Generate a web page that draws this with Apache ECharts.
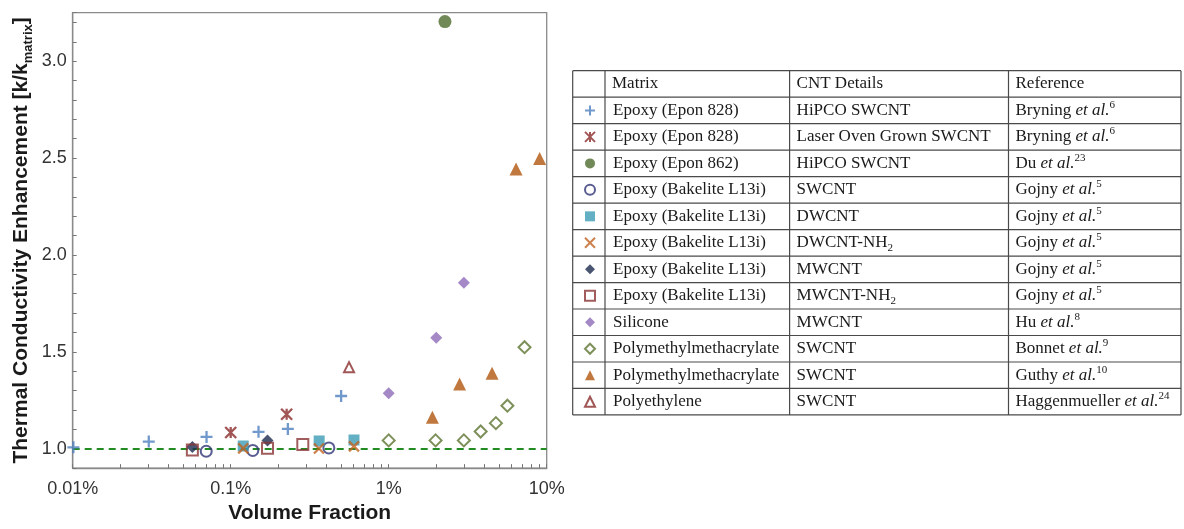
<!DOCTYPE html>
<html>
<head>
<meta charset="utf-8">
<script src="https://cdn.jsdelivr.net/npm/echarts@6/dist/echarts.min.js"></script>
<style>
html,body{margin:0;padding:0;background:#fff;}
#chart{width:1184px;height:529px;}
</style>
</head>
<body>
<div id="chart"></div>
<script>
// ---------- DATA (volume fraction in %, enhancement k/k_matrix) ----------
const matrices = [
  'Epoxy (Epon 828)', 'Epoxy (Epon 828)', 'Epoxy (Epon 862)',
  'Epoxy (Bakelite L13i)', 'Epoxy (Bakelite L13i)', 'Epoxy (Bakelite L13i)',
  'Epoxy (Bakelite L13i)', 'Epoxy (Bakelite L13i)', 'Silicone',
  'Polymethylmethacrylate', 'Polymethylmethacrylate', 'Polyethylene'
];
const cntDetails = [
  'HiPCO SWCNT', 'Laser Oven Grown SWCNT', 'HiPCO SWCNT', 'SWCNT', 'DWCNT',
  'DWCNT-NH2', 'MWCNT', 'MWCNT-NH2', 'MWCNT', 'SWCNT', 'SWCNT', 'SWCNT'
];
const refAuthors = ['Bryning', 'Bryning', 'Du', 'Gojny', 'Gojny', 'Gojny',
  'Gojny', 'Gojny', 'Hu', 'Bonnet', 'Guthy', 'Haggenmueller'];
const refNumbers = ['6', '6', '23', '5', '5', '5', '5', '5', '8', '9', '10', '24'];

const brynHipcoX = [0.0101, 0.0303, 0.0703, 0.150, 0.230, 0.500];
const brynHipcoY = [1.007, 1.037, 1.061, 1.087, 1.102, 1.272];
const brynLaserX = [0.100, 0.226];
const brynLaserY = [1.084, 1.178];
const duX = [2.27];
const duY = [3.204];
const gojnySwX = [0.0700, 0.138, 0.418];
const gojnySwY = [0.987, 0.991, 1.004];
const gojnyDwX = [0.120, 0.363, 0.603];
const gojnyDwY = [1.014, 1.040, 1.045];
const gojnyDwNhX = [0.120, 0.362, 0.603];
const gojnyDwNhY = [1.002, 1.001, 1.012];
const gojnyMwX = [0.0572, 0.171];
const gojnyMwY = [1.009, 1.043];
const gojnyMwNhX = [0.0572, 0.171, 0.286];
const gojnyMwNhY = [0.994, 1.002, 1.022];
const huX = [1.00, 2.00, 2.99];
const huY = [1.286, 1.572, 1.857];
const bonnetX = [1.00, 1.98, 2.99, 3.82, 4.77, 5.64, 7.24];
const bonnetY = [1.043, 1.043, 1.043, 1.089, 1.132, 1.222, 1.524];
const guthyX = [1.89, 2.81, 4.51, 6.40, 9.02];
const guthyY = [1.163, 1.334, 1.389, 2.443, 2.498];
const haggX = [0.561];
const haggY = [1.421];

const xLabelValues = [0.01, 0.1, 1, 10];
const xTickLabels = ['0.01%', '0.1%', '1%', '10%'];
const xTickValues = [0.01, 0.02, 0.03, 0.04, 0.05, 0.06, 0.07, 0.08, 0.09,
  0.1, 0.2, 0.3, 0.4, 0.5, 0.6, 0.7, 0.8, 0.9,
  1, 2, 3, 4, 5, 6, 7, 8, 9, 10];
const yTickLabels = ['1.0', '1.5', '2.0', '2.5', '3.0'];
const referenceLine = 1.0;

// ---------- STYLE ----------
const SERIF = "'Liberation Serif', 'Times New Roman', serif";
const SANS = "'Liberation Sans', Arial, sans-serif";
const P_PLUS = 'path://M5,0 L5,10 M0,5 L10,5';
const P_X = 'path://M0,0 L10,10 M10,0 L0,10';
const P_STAR = 'path://M0,0 L10,10 M10,0 L0,10 M5,0 L5,10';
const TXT = '#1a1a1a';
const FS = 17;

const seriesDefs = [
  { x: brynHipcoX, y: brynHipcoY, symbol: P_PLUS, size: 12, color: '#4f7fbf', stroke: true },
  { x: brynLaserX, y: brynLaserY, symbol: P_STAR, size: 11, color: '#8b2a2a', stroke: true },
  { x: duX, y: duY, symbol: 'circle', size: 13, color: '#4e6b2c' },
  { x: gojnySwX, y: gojnySwY, symbol: 'circle', size: 11, color: '#2f3576', open: true },
  { x: gojnyDwX, y: gojnyDwY, symbol: 'rect', size: 11, color: '#3c9cb5' },
  { x: gojnyDwNhX, y: gojnyDwNhY, symbol: P_X, size: 10, color: '#c0621f', stroke: true },
  { x: gojnyMwX, y: gojnyMwY, symbol: 'diamond', size: 12, color: '#1c2a4d' },
  { x: gojnyMwNhX, y: gojnyMwNhY, symbol: 'rect', size: 11, color: '#8a3535', open: true },
  { x: huX, y: huY, symbol: 'diamond', size: 12, color: '#8d6bb8' },
  { x: bonnetX, y: bonnetY, symbol: 'diamond', size: 12, color: '#5c7431', open: true },
  { x: guthyX, y: guthyY, symbol: 'triangle', size: 13, color: '#b0560e' },
  { x: haggX, y: haggY, symbol: 'triangle', size: 10, color: '#8a2c2c', open: true }
];

function seriesName(i) { return matrices[i] + ' | ' + cntDetails[i] + ' | ' + refAuthors[i]; }

const series = seriesDefs.map((d, i) => {
  let itemStyle;
  if (d.stroke) itemStyle = { color: d.color, borderColor: d.color, borderWidth: 2.3 };
  else if (d.open) itemStyle = { color: 'rgba(255,255,255,0)', borderColor: d.color, borderWidth: 2 };
  else itemStyle = { color: d.color };
  return {
    name: seriesName(i), type: 'scatter', symbol: d.symbol, symbolSize: d.size,
    data: d.x.map((v, k) => [v, d.y[k]]), itemStyle, z: 3 + i,
    emphasis: { disabled: true }
  };
});
series[0].markLine = {
  silent: true, symbol: ['none', 'none'], label: { show: false },
  lineStyle: { color: '#228b22', type: [7, 5], width: 2 },
  data: [{ yAxis: referenceLine }], z: 2, animation: false
};

// ---------- TABLE (legend + graphic) ----------
const tableTop = 70.7, rowH = 26.48, nRows = matrices.length + 1;
const colX = [572.7, 605, 789.6, 1008.5, 1181];
const tableBottom = tableTop + nRows * rowH;
const lineStyle = { stroke: '#4a4a4a', lineWidth: 1.2 };
const graphic = [];
for (let r = 0; r <= nRows; r++) {
  const y = tableTop + r * rowH;
  graphic.push({ type: 'line', shape: { x1: colX[0], y1: y, x2: colX[4], y2: y }, style: lineStyle, silent: true });
}
colX.forEach(x => graphic.push({ type: 'line', shape: { x1: x, y1: tableTop, x2: x, y2: tableBottom }, style: lineStyle, silent: true }));
const cellRich = {
  t: { fontFamily: SERIF, fontSize: FS, lineHeight: 22, fill: TXT },
  i: { fontFamily: SERIF, fontSize: FS, lineHeight: 22, fontStyle: 'italic', fill: TXT },
  sb: { fontFamily: SERIF, fontSize: 11, lineHeight: 11, verticalAlign: 'bottom', fill: TXT },
  sp: { fontFamily: SERIF, fontSize: 11, lineHeight: 11, verticalAlign: 'top', fill: TXT }
};
function cellText(x, y, text) {
  graphic.push({ type: 'text', x: x, y: y, silent: true,
    style: { text: text, rich: cellRich, fontFamily: SERIF, fontSize: FS, fill: TXT, verticalAlign: 'middle', align: 'left' } });
}
const headY = tableTop + rowH / 2;
cellText(colX[1] + 7, headY, '{t|Matrix}');
cellText(colX[2] + 7, headY, '{t|CNT Details}');
cellText(colX[3] + 7, headY, '{t|Reference}');
cntDetails.forEach((c, i) => {
  const y = tableTop + (i + 1.5) * rowH;
  const txt = /NH2$/.test(c) ? '{t|' + c.slice(0, -1) + '}{sb|2}' : '{t|' + c + '}';
  cellText(colX[2] + 7, y, txt);
  cellText(colX[3] + 7, y, '{t|' + refAuthors[i] + ' }{i|et al.}{sp|' + refNumbers[i] + '}');
});

const option = {
  animation: false,
  backgroundColor: '#ffffff',
  grid: { left: 72.7, right: 637.3, top: 12.7, bottom: 54, show: true, borderColor: '#8a8a8a', borderWidth: 1.3, containLabel: false },
  legend: {
    orient: 'vertical', left: 584, top: tableTop + 1.5 * rowH - 11, padding: 0,
    itemGap: rowH - 22, itemWidth: 10, itemHeight: 10,
    selectedMode: false,
    data: series.map(s => s.name),
    formatter: name => matrices[series.findIndex(s => s.name === name)],
    textStyle: { fontFamily: SERIF, fontSize: FS, color: TXT, lineHeight: 22, padding: [0, 0, 0, 13] }
  },
  xAxis: {
    type: 'log', logBase: 10, min: 0.01, max: 10,
    name: 'Volume Fraction', nameLocation: 'middle', nameGap: 31,
    nameTextStyle: { fontFamily: SANS, fontSize: 21, fontWeight: 'bold', color: TXT },
    axisLine: { lineStyle: { color: '#8a8a8a', width: 1.3 } },
    axisTick: { show: true, inside: true, length: 4, customValues: xTickValues, lineStyle: { color: '#777' } },
    minorTick: { show: false },
    axisLabel: {
      margin: 12, fontFamily: SANS, fontSize: 18, color: '#333',
      customValues: xLabelValues,
      formatter: v => { const k = xLabelValues.findIndex(t => Math.abs(Math.log10(t) - Math.log10(v)) < 1e-6); return k >= 0 ? xTickLabels[k] : ''; }
    },
    splitLine: { show: false }
  },
  yAxis: {
    type: 'value', min: 0.9, max: 3.25, interval: 0.1,
    name: '{b|Thermal Conductivity Enhancement [k/k}{s|matrix}{b|]}',
    nameLocation: 'middle', nameGap: 38, nameRotate: 90,
    nameTextStyle: {
      fontFamily: SANS, fontSize: 21, fontWeight: 'bold', color: TXT,
      rich: {
        b: { fontFamily: SANS, fontSize: 21, fontWeight: 'bold', color: TXT, lineHeight: 26 },
        s: { fontFamily: SANS, fontSize: 13, fontWeight: 'bold', color: TXT, lineHeight: 14, verticalAlign: 'bottom' }
      }
    },
    axisLine: { show: true, lineStyle: { color: '#8a8a8a', width: 1.3 } },
    axisTick: { show: true, inside: true, length: 4, lineStyle: { color: '#777' } },
    axisLabel: {
      margin: 6, fontFamily: SANS, fontSize: 18, color: '#333',
      formatter: v => { const k = yTickLabels.indexOf(Number(v).toFixed(2).replace(/0$/, '')); return k >= 0 ? yTickLabels[k] : ''; }
    },
    splitLine: { show: false }
  },
  graphic: graphic,
  series: series
};

const chart = echarts.init(document.getElementById('chart'), null, { renderer: 'canvas' });
chart.setOption(option);
</script>
</body>
</html>
